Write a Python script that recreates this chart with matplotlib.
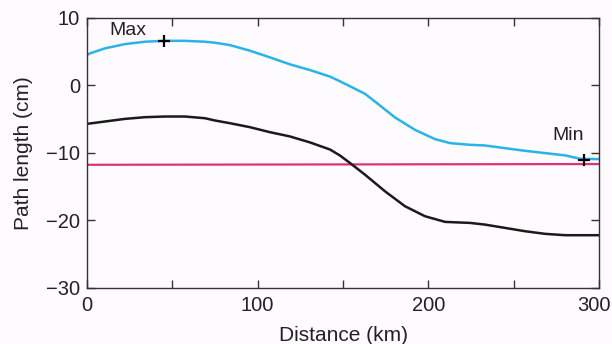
import matplotlib.pyplot as plt
from matplotlib.transforms import ScaledTranslation

# Data
dist_upper = [0, 1.8, 10.5, 22.3, 34, 45.7, 57.4, 69.1, 75, 83.8, 95.5, 107.2, 118.9, 130.7, 142.4,
              148.3, 157, 162.9, 168.7, 180.5, 192.2, 203.9, 212.7, 224.4, 233.2, 244.9, 256.6,
              268.4, 280.1, 288.9, 300]
upper = [4.5, 4.74, 5.48, 6.12, 6.47, 6.6, 6.6, 6.47, 6.32, 5.97, 5.14, 4.15, 3.12, 2.27, 1.3,
         0.6, -0.5, -1.25, -2.39, -4.76, -6.59, -7.96, -8.55, -8.8, -8.9, -9.3, -9.69,
         -10.03, -10.37, -10.87, -10.92]

dist_lower = [0, 10.5, 22.3, 34, 45.7, 57.4, 69.1, 75, 83.8, 95.5, 107.2, 118.9, 130.7, 142.4,
              148.3, 154.1, 162.9, 174.6, 186.3, 198, 209.8, 224.4, 233.2, 244.9, 256.6, 268.4,
              280.1, 300]
lower = [-5.7, -5.35, -4.96, -4.71, -4.61, -4.61, -4.86, -5.2, -5.6, -6.19, -6.93, -7.56, -8.45,
         -9.5, -10.4, -11.5, -13.23, -15.69, -17.9, -19.38, -20.22, -20.37, -20.62, -21.11,
         -21.6, -21.99, -22.19, -22.19]

dist_ref = [0, 300]
ref = [-11.76, -11.65]

max_pt = (45, 6.6)
min_pt = (291, -11.0)

plt.rcParams['font.family'] = ['Liberation Sans', 'DejaVu Sans']

fig = plt.figure(figsize=(6.12, 3.44), dpi=100, facecolor='#fdfbfd')
ax = fig.add_axes([0.142, 0.163, 0.837, 0.785])
ax.set_facecolor('#fdfbfd')

ax.plot(dist_ref, ref, color='#e0307a', lw=1.6)
ax.plot(dist_lower, lower, color='#1a1a1a', lw=1.8, solid_joinstyle='round')
ax.plot(dist_upper, upper, color='#2ab3e6', lw=1.8, solid_joinstyle='round')

ax.plot(*max_pt, marker='+', color='black', ms=8, mew=1.6)
ax.plot(*min_pt, marker='+', color='black', ms=8, mew=1.6)
ax.text(24, 8.1, 'Max', fontsize=14, ha='center', va='center', color='#222')
ax.text(282, -7.4, 'Min', fontsize=14, ha='center', va='center', color='#222')

ax.set_xlim(0, 300)
ax.set_ylim(-30, 10)
ax.set_xticks(range(0, 301, 50))
ax.set_xticklabels(['0', '', '100', '', '200', '', '300'])
ax.set_yticks(range(-30, 11, 10))
ax.set_yticklabels(['\u221230', '\u221220', '\u221210', '0', '10'])
ax.tick_params(direction='in', top=True, right=True, length=6, width=1,
               color='#333', labelsize=14.5, labelcolor='#222')
ax.tick_params(axis='x', pad=6)
ax.tick_params(axis='y', pad=5)
for s in ax.spines.values():
    s.set_color('#333')
    s.set_linewidth(1)

# keep the last x label inside the figure, as in the original
last = ax.get_xticklabels()[-1]
last.set_transform(last.get_transform() + ScaledTranslation(-5 / 100, 0, fig.dpi_scale_trans))

ax.set_xlabel('Distance (km)', fontsize=15, color='#222', labelpad=8)
ax.set_ylabel('Path length (cm)', fontsize=15, color='#222', labelpad=9)

fig.savefig('out.png', dpi=100, facecolor=fig.get_facecolor())
